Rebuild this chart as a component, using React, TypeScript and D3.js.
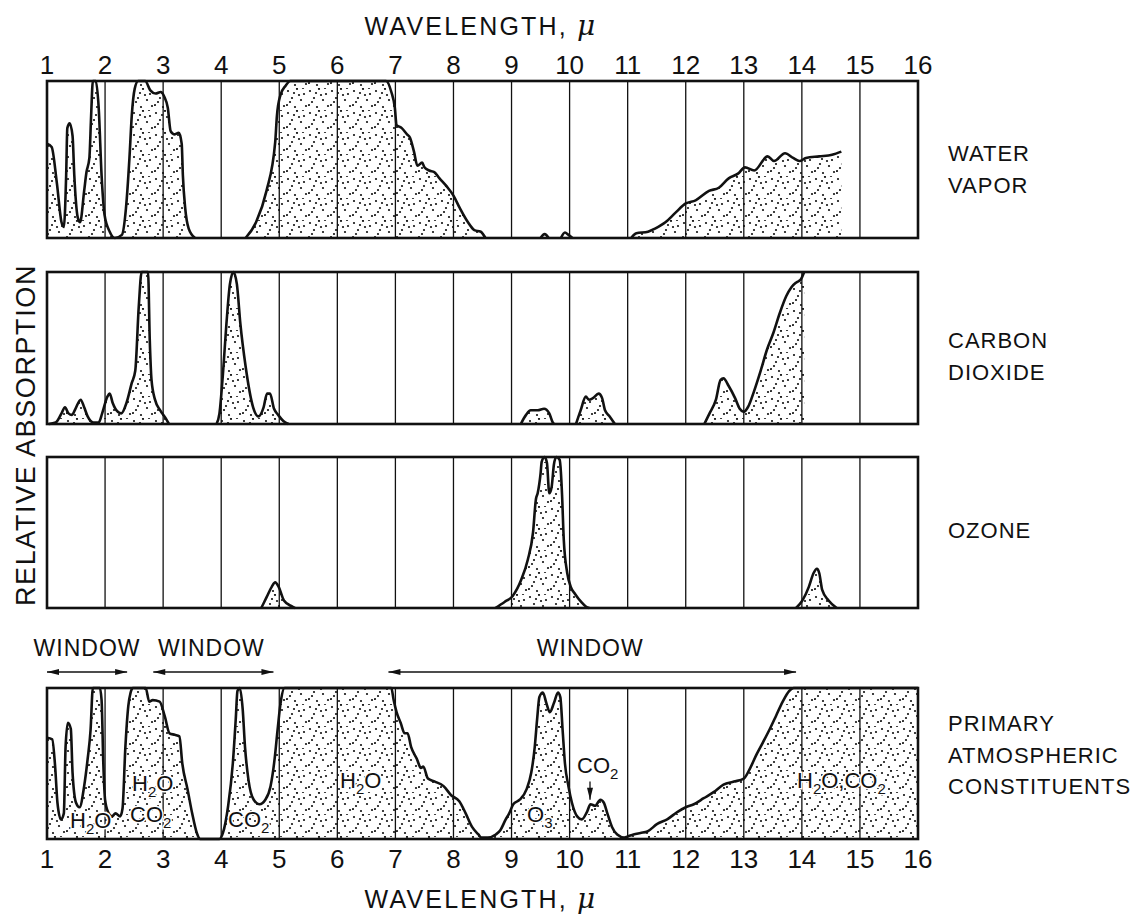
import React from 'react'
import * as d3 from 'd3'

type Pt = [number, number]

// wavelength ticks (microns)
const tickValues = d3.range(1, 17)
const gridValues = d3.range(2, 16)

// water vapor bands: [wavelength, relative absorption]
const h2oNearIr: Pt[] = [
  [1.0, 0.6], [1.08, 0.58], [1.17, 0.35], [1.25, 0.1], [1.29, 0.07], [1.33, 0.4], [1.35, 0.7],
  [1.39, 0.73], [1.44, 0.65], [1.47, 0.4], [1.53, 0.13], [1.57, 0.1], [1.64, 0.3], [1.68, 0.42],
  [1.73, 0.51], [1.76, 0.78], [1.79, 1], [1.84, 1], [1.89, 0.83], [1.94, 0.4], [1.99, 0.15],
  [2.08, 0.04], [2.17, 0], [2.29, 0.02], [2.36, 0.19], [2.42, 0.51], [2.46, 0.78], [2.51, 0.95],
  [2.57, 1], [2.69, 1], [2.78, 0.94], [2.87, 0.92], [2.96, 0.93], [3.02, 0.9], [3.08, 0.83],
  [3.13, 0.68], [3.19, 0.66], [3.27, 0.67], [3.32, 0.6], [3.34, 0.4], [3.38, 0.19], [3.44, 0.06],
  [3.55, 0],
]
const h2o63: Pt[] = [
  [4.42, 0], [4.6, 0.1], [4.78, 0.3], [4.93, 0.61], [4.96, 0.78], [5.02, 0.91], [5.11, 0.97],
  [5.19, 1], [6.84, 1], [6.93, 0.93], [6.99, 0.83], [7.02, 0.72], [7.11, 0.7], [7.2, 0.66],
  [7.25, 0.64], [7.32, 0.55], [7.38, 0.46], [7.46, 0.48], [7.5, 0.45], [7.58, 0.43], [7.67, 0.42],
  [7.76, 0.38], [7.88, 0.33], [8.0, 0.27], [8.11, 0.19], [8.25, 0.1], [8.36, 0.05], [8.47, 0.04],
  [8.55, 0],
]
const h2oBump1: Pt[] = [[9.5, 0], [9.57, 0.025], [9.64, 0]]
const h2oBump2: Pt[] = [[9.85, 0], [9.92, 0.035], [9.98, 0.02], [10.05, 0]]
const h2oRotation: Pt[] = [
  [11.06, 0], [11.15, 0.03], [11.35, 0.04], [11.47, 0.06], [11.65, 0.1], [11.82, 0.16], [12.0, 0.22],
  [12.17, 0.24], [12.4, 0.3], [12.57, 0.32], [12.74, 0.38], [12.9, 0.41], [13.02, 0.45],
  [13.18, 0.43], [13.41, 0.52], [13.52, 0.49], [13.71, 0.54], [13.85, 0.51], [13.96, 0.49],
  [14.07, 0.51], [14.3, 0.52], [14.52, 0.53], [14.68, 0.55],
]

// carbon dioxide bands
const co2Near: Pt[] = [
  [1.03, 0], [1.15, 0.01], [1.25, 0.07], [1.31, 0.11], [1.37, 0.07], [1.43, 0.06], [1.49, 0.1],
  [1.58, 0.16], [1.64, 0.11], [1.7, 0.05], [1.8, 0.01], [1.89, 0.01], [1.95, 0.07], [2.04, 0.18],
  [2.08, 0.2], [2.13, 0.14], [2.22, 0.08], [2.28, 0.07], [2.37, 0.14], [2.46, 0.27], [2.52, 0.35],
  [2.58, 0.77], [2.63, 1], [2.74, 1], [2.77, 0.55], [2.8, 0.29], [2.86, 0.16], [2.95, 0.09],
  [3.04, 0.04], [3.1, 0],
]
const co2Band43: Pt[] = [
  [3.92, 0], [3.97, 0.07], [4.03, 0.33], [4.09, 0.66], [4.15, 0.92], [4.21, 1], [4.27, 0.92],
  [4.33, 0.66], [4.42, 0.38], [4.55, 0.11], [4.64, 0.05], [4.73, 0.11], [4.79, 0.2], [4.84, 0.2],
  [4.91, 0.1], [4.98, 0.06], [5.07, 0.02], [5.16, 0],
]
const co2Band94: Pt[] = [
  [9.16, 0], [9.25, 0.06], [9.33, 0.09], [9.45, 0.09], [9.56, 0.1], [9.65, 0.07], [9.71, 0.01], [9.73, 0],
]
const co2Band104: Pt[] = [
  [10.11, 0], [10.19, 0.09], [10.28, 0.18], [10.33, 0.16], [10.4, 0.17], [10.5, 0.2], [10.56, 0.17],
  [10.61, 0.09], [10.69, 0.05], [10.78, 0],
]
const co2Band15: Pt[] = [
  [12.32, 0], [12.41, 0.07], [12.52, 0.16], [12.6, 0.29], [12.65, 0.3], [12.74, 0.25], [12.85, 0.17],
  [12.93, 0.1], [13.0, 0.08], [13.07, 0.11], [13.18, 0.22], [13.29, 0.35], [13.4, 0.49],
  [13.51, 0.6], [13.62, 0.73], [13.73, 0.84], [13.82, 0.9], [13.9, 0.93], [13.98, 0.95], [14.04, 1],
]

// ozone bands
const o3Band47: Pt[] = [
  [4.69, 0], [4.78, 0.07], [4.87, 0.14], [4.93, 0.17], [4.99, 0.14], [5.08, 0.05], [5.22, 0.01], [5.27, 0],
]
const o3Band96: Pt[] = [
  [8.72, 0], [8.88, 0.04], [9.02, 0.08], [9.17, 0.19], [9.28, 0.32], [9.37, 0.5], [9.42, 0.72],
  [9.45, 0.76], [9.5, 0.89], [9.52, 0.97], [9.57, 1], [9.61, 0.96], [9.65, 0.76], [9.69, 0.8],
  [9.73, 0.95], [9.77, 1], [9.83, 0.98], [9.85, 0.9], [9.87, 0.75], [9.9, 0.45], [9.96, 0.23],
  [10.02, 0.14], [10.1, 0.09], [10.2, 0.04], [10.28, 0.01], [10.34, 0],
]
const o3Band142: Pt[] = [
  [13.9, 0], [14.01, 0.05], [14.12, 0.14], [14.2, 0.23], [14.26, 0.26], [14.3, 0.23], [14.35, 0.12],
  [14.46, 0.05], [14.6, 0],
]

// all constituents together
const combined: Pt[] = [
  [1.0, 0.67], [1.09, 0.66], [1.14, 0.48], [1.18, 0.24], [1.24, 0.13], [1.29, 0.17], [1.32, 0.61],
  [1.36, 0.77], [1.41, 0.73], [1.44, 0.44], [1.5, 0.24], [1.56, 0.21], [1.64, 0.35], [1.7, 0.53],
  [1.75, 0.72], [1.79, 1], [1.91, 1], [1.94, 0.92], [1.97, 0.5], [2.0, 0.26], [2.05, 0.18],
  [2.12, 0.15], [2.18, 0.17], [2.26, 0.15], [2.3, 0.2], [2.35, 0.61], [2.4, 0.88], [2.44, 0.97],
  [2.48, 1], [2.7, 1], [2.76, 0.91], [2.82, 0.92], [2.94, 0.91], [3.03, 0.81], [3.11, 0.7],
  [3.2, 0.69], [3.28, 0.68], [3.33, 0.5], [3.42, 0.33], [3.5, 0.17], [3.58, 0.04], [3.64, 0],
  [3.97, 0], [4.03, 0.04], [4.12, 0.22], [4.2, 0.5], [4.25, 0.79], [4.28, 0.98], [4.32, 1],
  [4.37, 0.86], [4.41, 0.61], [4.47, 0.39], [4.56, 0.26], [4.66, 0.23], [4.76, 0.26], [4.85, 0.35],
  [4.92, 0.53], [4.97, 0.72], [5.03, 0.92], [5.09, 1], [6.93, 1], [6.97, 0.92], [7.02, 0.84],
  [7.09, 0.77], [7.16, 0.7], [7.21, 0.7], [7.27, 0.61], [7.37, 0.53], [7.44, 0.47], [7.48, 0.48],
  [7.56, 0.4], [7.68, 0.38], [7.83, 0.35], [7.96, 0.29], [8.1, 0.25], [8.21, 0.17], [8.32, 0.08],
  [8.43, 0.03], [8.48, 0.01], [8.59, 0.01], [8.73, 0.03], [8.81, 0.06], [8.9, 0.13], [8.96, 0.17],
  [9.03, 0.23], [9.14, 0.26], [9.26, 0.33], [9.34, 0.44], [9.4, 0.61], [9.44, 0.79], [9.48, 0.94],
  [9.54, 0.97], [9.6, 0.9], [9.66, 0.84], [9.73, 0.9], [9.8, 0.97], [9.84, 0.94], [9.88, 0.72],
  [9.92, 0.5], [9.98, 0.35], [10.04, 0.24], [10.13, 0.15], [10.21, 0.13], [10.3, 0.18],
  [10.36, 0.23], [10.44, 0.22], [10.53, 0.26], [10.59, 0.24], [10.65, 0.17], [10.73, 0.08],
  [10.82, 0.03], [10.94, 0.01], [11.02, 0.02], [11.1, 0.03], [11.22, 0.04], [11.34, 0.05],
  [11.51, 0.1], [11.68, 0.13], [11.86, 0.18], [12.0, 0.21], [12.14, 0.23], [12.31, 0.27],
  [12.48, 0.31], [12.65, 0.36], [12.83, 0.38], [13.0, 0.4], [13.11, 0.47], [13.22, 0.56],
  [13.33, 0.64], [13.45, 0.73], [13.56, 0.82], [13.67, 0.91], [13.78, 0.98], [13.86, 1], [16, 1],
]

const panelNames = [['WATER', 'VAPOR'], ['CARBON', 'DIOXIDE'], ['OZONE'], ['PRIMARY', 'ATMOSPHERIC', 'CONSTITUENTS']]
const windows: [number, number, string][] = [
  [1.0, 2.38, 'WINDOW'],
  [2.83, 4.9, 'WINDOW'],
  [6.88, 13.9, 'WINDOW'],
]

const width = 1143
const height = 917
const font = '"Liberation Sans Narrow", "Liberation Sans", Arial, sans-serif'

const x = d3.scaleLinear().domain([1, 16]).range([47, 918])

const panels = [
  { top: 81, bottom: 238, bands: [h2oNearIr, h2o63, h2oBump1, h2oBump2, h2oRotation], labelY: 161 },
  { top: 272, bottom: 424, bands: [co2Near, co2Band43, co2Band94, co2Band104, co2Band15], labelY: 348 },
  { top: 457, bottom: 608, bands: [o3Band47, o3Band96, o3Band142], labelY: 538 },
  { top: 688, bottom: 839, bands: [combined], labelY: 731 },
]

// fixed stipple positions in one pattern tile
const dots: Pt[] = [
  [2, 3], [11, 1], [18, 6], [6, 10], [15, 12], [1, 17], [9, 19], [20, 18], [13, 7], [4, 14], [17, 22], [8, 5],
]

function Sub({ a, s, b }: { a: string; s: string; b?: string }) {
  return (
    <>
      <tspan>{a}</tspan>
      <tspan dy={6} fontSize={15}>{s}</tspan>
      {b ? <tspan dy={-6}>{b}</tspan> : null}
    </>
  )
}

function Panel({ top, bottom, bands, labelY, names }: any) {
  const y = d3.scaleLinear().domain([0, 1]).range([bottom, top])
  const area = d3.area<Pt>().x(d => x(d[0])).y0(bottom).y1(d => y(d[1])).curve(d3.curveMonotoneX)
  const line = d3.line<Pt>().x(d => x(d[0])).y(d => y(d[1])).curve(d3.curveMonotoneX)
  return (
    <g>
      {bands.map((b: Pt[], i: number) => (
        <path key={'a' + i} d={area(b) || ''} fill="url(#stipple)" />
      ))}
      {gridValues.map(v => (
        <line key={v} x1={x(v)} x2={x(v)} y1={top} y2={bottom} stroke="#111" strokeWidth={1.3} />
      ))}
      {bands.map((b: Pt[], i: number) => (
        <path key={'l' + i} d={line(b) || ''} fill="none" stroke="#111" strokeWidth={2.6} strokeLinejoin="round" />
      ))}
      <rect x={x(1)} y={top} width={x(16) - x(1)} height={bottom - top} fill="none" stroke="#111" strokeWidth={2.6} />
      <text x={948} y={labelY} fontSize={22} fontFamily={font} fill="#111" letterSpacing={1}>
        {names.map((n: string, i: number) => (
          <tspan key={n} x={948} dy={i === 0 ? 0 : 31.5}>{n}</tspan>
        ))}
      </text>
    </g>
  )
}

export default function App() {
  const bottomPanel = panels[3]
  const yb = d3.scaleLinear().domain([0, 1]).range([bottomPanel.bottom, bottomPanel.top])
  const halo = { stroke: '#fff', strokeWidth: 3, paintOrder: 'stroke' as any }
  return (
    <svg width={width} height={height} style={{ display: 'block', margin: '-8px 0 0 -8px', background: '#fff' }}>
      <defs>
        <pattern id="stipple" width={22} height={22} patternUnits="userSpaceOnUse">
          {dots.map((d, i) => (
            <circle key={i} cx={d[0]} cy={d[1] % 22} r={1.1} fill="#111" />
          ))}
        </pattern>
        <marker id="head" viewBox="0 0 12 6" refX={12} refY={3} markerWidth={16} markerHeight={6} markerUnits="userSpaceOnUse" orient="auto-start-reverse">
          <path d="M0,0 L12,3 L0,6 Z" fill="#111" />
        </marker>
      </defs>
      <rect width={width} height={height} fill="#fff" />

      {/* top axis */}
      <text x={481} y={35} textAnchor="middle" fontSize={25} fontFamily={font} fill="#111" letterSpacing={2.2}>
        WAVELENGTH, <tspan fontStyle="italic" fontSize={28} fontFamily="DejaVu Serif, serif">μ</tspan>
      </text>
      {tickValues.map(t => (
        <text key={t} x={x(t)} y={74} textAnchor="middle" fontSize={26} fontFamily={font} fill="#111">
          {t}
        </text>
      ))}

      {panels.map((p, i) => (
        <Panel key={i} {...p} names={panelNames[i]} />
      ))}

      {/* left label */}
      <text
        transform="translate(35,435) rotate(-90)"
        textAnchor="middle"
        fontSize={27}
        fontFamily={font}
        fill="#111"
        letterSpacing={1.6}
      >
        RELATIVE   ABSORPTION
      </text>

      {/* windows */}
      {windows.map(([a, b, label], i) => (
        <g key={i}>
          <line x1={x(a)} x2={x(b)} y1={672} y2={672} stroke="#111" strokeWidth={1.3} markerStart="url(#head)" markerEnd="url(#head)" />
          <text x={(x(a) + x(b)) / 2 - (i === 0 ? 0 : 2)} y={656} textAnchor="middle" fontSize={23} fontFamily={font} fill="#111" letterSpacing={1}>
            {label}
          </text>
        </g>
      ))}

      {/* constituent labels in bottom panel */}
      <g fontFamily={font} fontSize={22} fill="#111" {...halo}>
        <text x={70} y={yb(0.07)}><Sub a="H" s="2" b="O" /></text>
        <text x={132} y={yb(0.32)}><Sub a="H" s="2" b="O" /></text>
        <text x={130} y={yb(0.11)}><Sub a="CO" s="2" /></text>
        <text x={228} y={yb(0.08)}><Sub a="CO" s="2" /></text>
        <text x={340} y={yb(0.34)}><Sub a="H" s="2" b="O" /></text>
        <text x={527} y={yb(0.11)}><Sub a="O" s="3" /></text>
        <text x={577} y={yb(0.44)}><Sub a="CO" s="2" /></text>
        <text x={797} y={yb(0.34)}><Sub a="H" s="2" b="O,CO" /><tspan dy={6} fontSize={15}>2</tspan></text>
      </g>
      <line x1={590} x2={590} y1={yb(0.38)} y2={yb(0.26)} stroke="#111" strokeWidth={1.3} markerEnd="url(#head)" />

      {/* bottom axis */}
      {tickValues.map(t => (
        <text key={t} x={x(t)} y={868} textAnchor="middle" fontSize={26} fontFamily={font} fill="#111">
          {t}
        </text>
      ))}
      <text x={481} y={908} textAnchor="middle" fontSize={25} fontFamily={font} fill="#111" letterSpacing={2.2}>
        WAVELENGTH, <tspan fontStyle="italic" fontSize={28} fontFamily="DejaVu Serif, serif">μ</tspan>
      </text>
    </svg>
  )
}
